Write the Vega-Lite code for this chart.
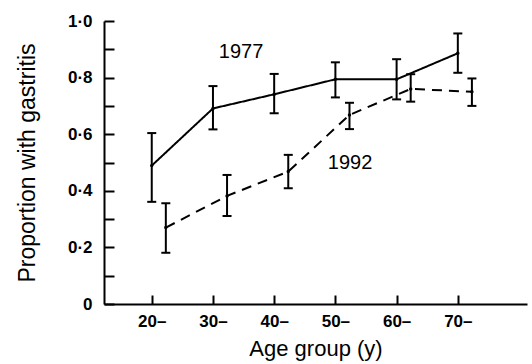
{
  "$schema": "https://vega.github.io/schema/vega-lite/v6.json",
  "width": 423,
  "height": 283,
  "autosize": "none",
  "padding": {"left": 104, "top": 21, "right": 5, "bottom": 60},
  "background": "white",
  "config": {
    "view": {"stroke": null},
    "font": "Liberation Sans"
  },
  "data": {
    "values": [
      {"year": "1977", "age": 20, "p": 0.489, "lo": 0.361, "hi": 0.604},
      {"year": "1977", "age": 30, "p": 0.691, "lo": 0.617, "hi": 0.770},
      {"year": "1977", "age": 40, "p": 0.741, "lo": 0.674, "hi": 0.813},
      {"year": "1977", "age": 50, "p": 0.794, "lo": 0.730, "hi": 0.854},
      {"year": "1977", "age": 60, "p": 0.794, "lo": 0.723, "hi": 0.865},
      {"year": "1977", "age": 70, "p": 0.886, "lo": 0.817, "hi": 0.956},
      {"year": "1992", "age": 22.3, "p": 0.270, "lo": 0.181, "hi": 0.356},
      {"year": "1992", "age": 32.3, "p": 0.382, "lo": 0.311, "hi": 0.456},
      {"year": "1992", "age": 42.3, "p": 0.468, "lo": 0.409, "hi": 0.527},
      {"year": "1992", "age": 52.3, "p": 0.668, "lo": 0.618, "hi": 0.711},
      {"year": "1992", "age": 62.3, "p": 0.760, "lo": 0.715, "hi": 0.812},
      {"year": "1992", "age": 72.3, "p": 0.750, "lo": 0.700, "hi": 0.797}
    ]
  },
  "encoding": {
    "x": {
      "field": "age", "type": "quantitative",
      "scale": {"domain": [12.2, 81.3], "nice": false, "zero": false},
      "axis": {
        "title": "Age group (y)", "values": [20, 30, 40, 50, 60, 70],
        "labelExpr": "datum.value + '–'", "tickSize": -9, "labelPadding": 18,
        "titlePadding": 9,
        "domainColor": "black", "domainWidth": 2, "tickColor": "black", "tickWidth": 2,
        "grid": false, "labelColor": "black", "titleColor": "black",
        "labelFont": "Liberation Sans", "labelFontSize": 17, "labelFontWeight": "bold",
        "titleFont": "Liberation Sans", "titleFontSize": 22, "titleFontWeight": "normal"
      }
    },
    "y": {
      "field": "p", "type": "quantitative",
      "scale": {"domain": [0, 1], "nice": false},
      "axis": {
        "title": "Proportion with gastritis",
        "values": [0, 0.1, 0.2, 0.3, 0.4, 0.5, 0.6, 0.7, 0.8, 0.9, 1.0],
        "labelExpr": "datum.value == 0 ? '0' : (round(datum.value*10) % 2 == 0 ? replace(format(datum.value, '.1f'), '.', '·') : '')",
        "tickSize": -10, "labelPadding": 22, "titlePadding": 28,
        "domainColor": "black", "domainWidth": 2, "tickColor": "black", "tickWidth": 2,
        "grid": false, "labelColor": "black", "titleColor": "black",
        "labelFont": "Liberation Sans", "labelFontSize": 17, "labelFontWeight": "bold",
        "titleFont": "Liberation Sans", "titleFontSize": 23, "titleFontWeight": "normal"
      }
    }
  },
  "layer": [
    {
      "mark": {"type": "line", "color": "black", "strokeWidth": 2},
      "encoding": {
        "detail": {"field": "year"},
        "strokeDash": {
          "field": "year", "type": "nominal",
          "scale": {"domain": ["1977", "1992"], "range": [[1, 0], [10, 7]]},
          "legend": null
        }
      }
    },
    {
      "mark": {"type": "rule", "color": "black", "strokeWidth": 2},
      "encoding": {
        "y": {"field": "lo", "type": "quantitative"},
        "y2": {"field": "hi"}
      }
    },
    {
      "mark": {"type": "tick", "orient": "horizontal", "color": "black", "size": 9, "thickness": 2, "opacity": 1},
      "encoding": {"y": {"field": "lo", "type": "quantitative"}}
    },
    {
      "mark": {"type": "tick", "orient": "horizontal", "color": "black", "size": 9, "thickness": 2, "opacity": 1},
      "encoding": {"y": {"field": "hi", "type": "quantitative"}}
    },
    {
      "mark": {"type": "point", "filled": true, "color": "black", "size": 12, "opacity": 1},
      "encoding": {}
    },
    {
      "data": {"values": [
        {"label": "1977", "x": 34.6, "y": 0.889},
        {"label": "1992", "x": 52.4, "y": 0.5}
      ]},
      "mark": {"type": "text", "font": "Liberation Sans", "fontSize": 20, "color": "black", "baseline": "middle", "align": "center"},
      "encoding": {
        "x": {"field": "x", "type": "quantitative"},
        "y": {"field": "y", "type": "quantitative"},
        "text": {"field": "label"}
      }
    }
  ]
}
